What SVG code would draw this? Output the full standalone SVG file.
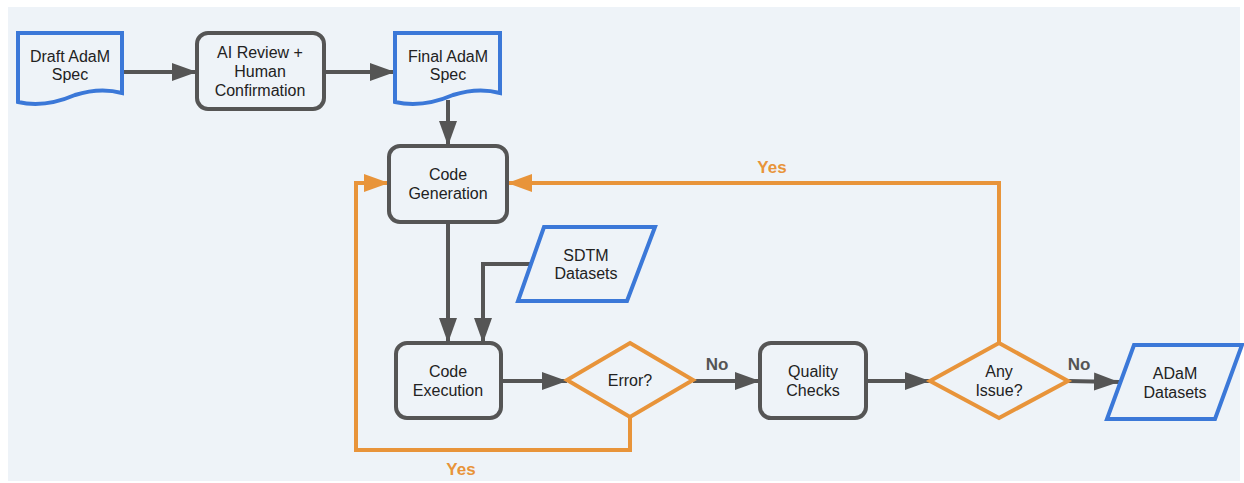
<svg xmlns="http://www.w3.org/2000/svg" width="1244" height="483" viewBox="0 0 1244 483">
<style>
.bg{fill:#eef3f8}
.proc{fill:#eef3f8;stroke:#555;stroke-width:4}
.io{fill:#eef3f8;stroke:#3b78d8;stroke-width:4;stroke-linejoin:miter}
.dec{fill:#eef3f8;stroke:#e8943a;stroke-width:4}
.t{font-family:"Liberation Sans",Arial,sans-serif;font-size:16px;fill:#222;text-anchor:middle}
.lbl{font-family:"Liberation Sans",Arial,sans-serif;font-size:17px;font-weight:bold;text-anchor:middle}
.g{fill:none;stroke:#555;stroke-width:4}
.o{fill:none;stroke:#e8943a;stroke-width:4}
</style>
<defs>
<marker id="ag" markerUnits="userSpaceOnUse" markerWidth="26" markerHeight="20" refX="25" refY="10" orient="auto">
<path d="M0,1 L25,10 L0,19 Z" fill="#555"/>
</marker>
<marker id="ao" markerUnits="userSpaceOnUse" markerWidth="26" markerHeight="20" refX="25" refY="10" orient="auto">
<path d="M0,1 L25,10 L0,19 Z" fill="#e8943a"/>
</marker>
</defs>
<rect x="0" y="0" width="1244" height="483" fill="#ffffff"/>
<rect class="bg" x="8" y="7" width="1232" height="474"/>

<g id="connectors">
<path class="g" d="M122,72 H197" marker-end="url(#ag)"/>
<path class="g" d="M324,72 H395" marker-end="url(#ag)"/>
<path class="g" d="M448,100 V146" marker-end="url(#ag)"/>
<path class="g" d="M448,222 V343" marker-end="url(#ag)"/>
<path class="g" d="M530,264 H483 V343" marker-end="url(#ag)"/>
<path class="g" d="M501,381 H567" marker-end="url(#ag)"/>
<path class="g" d="M693,381 H760" marker-end="url(#ag)"/>
<path class="g" d="M866,381 H930" marker-end="url(#ag)"/>
<path class="g" d="M1068,381 L1119,382" marker-end="url(#ag)"/>
<path class="o" d="M630,417 V450 H356 V183 H389" marker-end="url(#ao)"/>
<path class="o" d="M999,343 V183 H507" marker-end="url(#ao)"/>
<text class="lbl" x="461" y="475" fill="#e8943a">Yes</text>
<text class="lbl" x="772" y="173" fill="#e8943a">Yes</text>
<text class="lbl" x="717" y="370" fill="#555">No</text>
<text class="lbl" x="1079" y="370" fill="#555">No</text>
</g>

<g id="draft">
<path class="io" d="M18,33 H122 V93 Q100,87 75,95 Q45,108 18,102 Z"/>
<text class="t" x="70" y="62">Draft AdaM</text>
<text class="t" x="70" y="80">Spec</text>
</g>
<g id="review">
<rect class="proc" x="197" y="33" width="127" height="76" rx="11"/>
<text class="t" x="260" y="58">AI Review +</text>
<text class="t" x="260" y="77">Human</text>
<text class="t" x="260" y="96">Confirmation</text>
</g>
<g id="final">
<path class="io" d="M395,33 H500 V93 Q478,87 453,95 Q423,108 395,102 Z"/>
<text class="t" x="448" y="62">Final AdaM</text>
<text class="t" x="448" y="80">Spec</text>
</g>
<g id="codegen">
<rect class="proc" x="389" y="146" width="118" height="76" rx="11"/>
<text class="t" x="448" y="180">Code</text>
<text class="t" x="448" y="199">Generation</text>
</g>
<g id="sdtm">
<path class="io" d="M544,227 H655 L627,301 H518 Z"/>
<text class="t" x="586" y="261">SDTM</text>
<text class="t" x="586" y="279">Datasets</text>
</g>
<g id="codeexec">
<rect class="proc" x="396" y="343" width="105" height="75" rx="11"/>
<text class="t" x="448" y="377">Code</text>
<text class="t" x="448" y="396">Execution</text>
</g>
<g id="error">
<path class="dec" d="M630,343 L693,380 L630,417 L567,380 Z"/>
<text class="t" x="630" y="386">Error?</text>
</g>
<g id="quality">
<rect class="proc" x="760" y="343" width="106" height="75" rx="11"/>
<text class="t" x="813" y="377">Quality</text>
<text class="t" x="813" y="396">Checks</text>
</g>
<g id="issue">
<path class="dec" d="M999,343 L1068,381 L999,418 L930,381 Z"/>
<text class="t" x="999" y="377">Any</text>
<text class="t" x="999" y="396">Issue?</text>
</g>
<g id="adam">
<path class="io" d="M1134,345 H1242 L1215,419 H1107 Z"/>
<text class="t" x="1175" y="379">ADaM</text>
<text class="t" x="1175" y="398">Datasets</text>
</g>
</svg>
